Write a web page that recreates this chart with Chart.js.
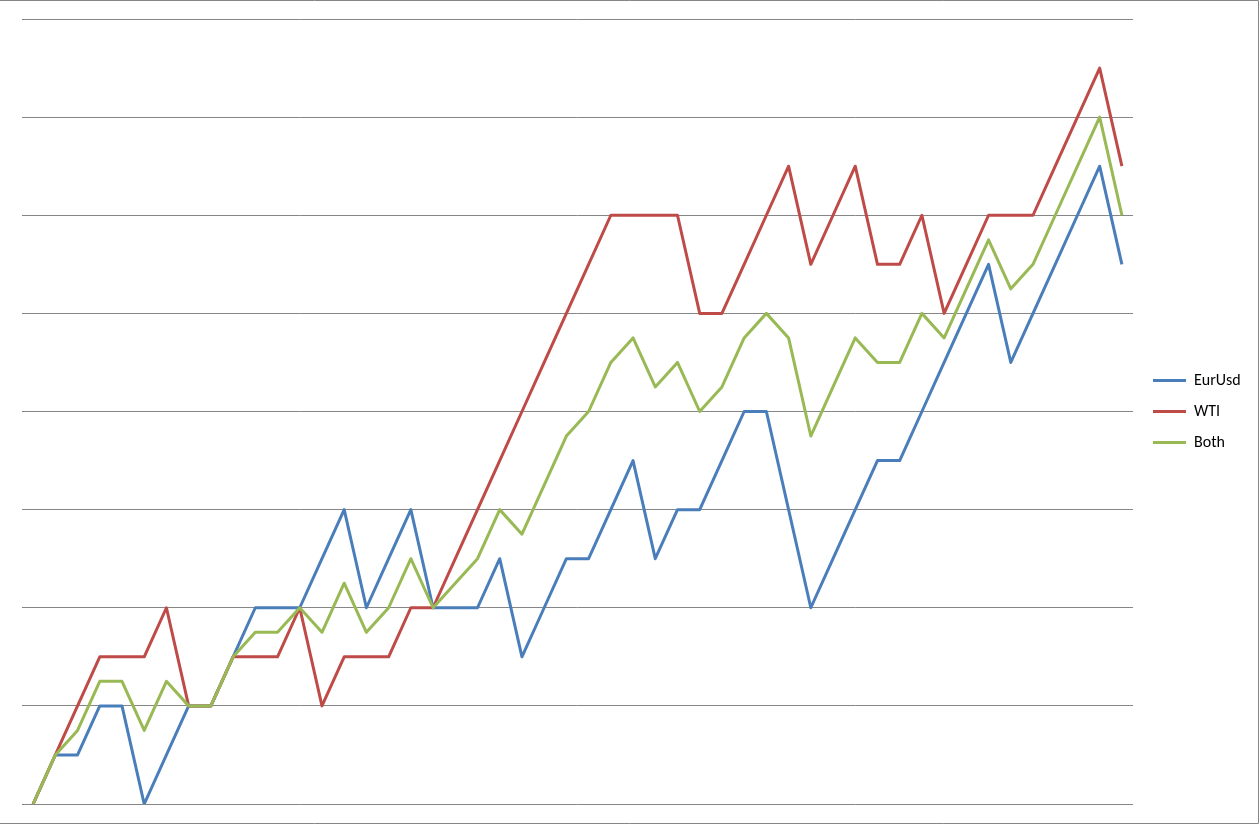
<!DOCTYPE html>
<html>
<head>
<meta charset="utf-8">
<script src="https://cdn.jsdelivr.net/npm/chart.js@4"></script>
<style>
  html, body { margin: 0; padding: 0; background: #ffffff; }
  #wrap { width: 1260px; height: 826px; }
</style>
</head>
<body>
<div id="wrap"><canvas id="c" width="1260" height="826"></canvas></div>
<script>
// ---- data ----
const categories = [1,2,3,4,5,6,7,8,9,10,11,12,13,14,15,16,17,18,19,20,21,22,23,24,25,26,27,28,29,30,31,32,33,34,35,36,37,38,39,40,41,42,43,44,45,46,47,48,49,50];

const eurUsd = [0,1,1,2,2,0,1,2,2,3,4,4,4,5,6,4,5,6,4,4,4,5,3,4,5,5,6,7,5,6,6,7,8,8,6,4,5,6,7,7,8,9,10,11,9,10,11,12,13,11];

const wti = [0,1,2,3,3,3,4,2,2,3,3,3,4,2,3,3,3,4,4,5,6,7,8,9,10,11,12,12,12,12,10,10,11,12,13,11,12,13,11,11,12,10,11,12,12,12,13,14,15,13];

const both = [0,1,1.5,2.5,2.5,1.5,2.5,2,2,3,3.5,3.5,4,3.5,4.5,3.5,4,5,4,4.5,5,6,5.5,6.5,7.5,8,9,9.5,8.5,9,8,8.5,9.5,10,9.5,7.5,8.5,9.5,9,9,10,9.5,10.5,11.5,10.5,11,12,13,14,12];

const seriesNames = ['EurUsd', 'WTI', 'Both'];
const yTicks = { min: 0, max: 16, step: 2 };

// ---- styles ----
const colors = ['#4A7EBB', '#BE4B48', '#98B954'];
const gridColor = '#868686';

const frame = {
  id: 'frame',
  afterDraw(chart) {
    const ctx = chart.ctx;
    ctx.save();
    ctx.strokeStyle = gridColor;
    ctx.lineWidth = 1;
    ctx.beginPath();
    ctx.moveTo(0, 0.5); ctx.lineTo(1258.5, 0.5);
    ctx.lineTo(1258.5, 823.5); ctx.lineTo(0, 823.5);
    ctx.stroke();
    ctx.restore();
  }
};

new Chart(document.getElementById('c'), {
  type: 'line',
  data: {
    labels: categories,
    datasets: [
      { label: seriesNames[0], data: eurUsd, borderColor: colors[0], backgroundColor: colors[0], order: 3 },
      { label: seriesNames[1], data: wti, borderColor: colors[1], backgroundColor: colors[1], order: 2 },
      { label: seriesNames[2], data: both, borderColor: colors[2], backgroundColor: colors[2], order: 1 }
    ]
  },
  options: {
    responsive: false,
    animation: false,
    devicePixelRatio: 1,
    elements: {
      line: { borderWidth: 3, tension: 0, borderJoinStyle: 'round', borderCapStyle: 'butt', fill: false },
      point: { radius: 0, hoverRadius: 0 }
    },
    layout: { padding: { top: 19, left: 22, bottom: 22, right: 12 } },
    scales: {
      x: {
        type: 'category',
        offset: true,
        grid: { display: false, drawTicks: false },
        border: { display: false },
        ticks: { display: false },
        afterFit(s) { s.height = 0; }
      },
      y: {
        min: yTicks.min,
        max: yTicks.max,
        ticks: { display: false, stepSize: yTicks.step },
        grid: { color: gridColor, lineWidth: 1, drawTicks: false },
        border: { display: false },
        afterFit(s) { s.width = 0; }
      },
      gap: {
        type: 'linear',
        position: 'right',
        display: true,
        ticks: { display: false },
        grid: { display: false, drawTicks: false },
        border: { display: false },
        afterFit(s) { s.width = 5; }
      }
    },
    plugins: {
      tooltip: { enabled: false },
      legend: {
        position: 'right',
        maxWidth: 110,
        labels: {
          boxWidth: 33,
          boxHeight: 3,
          padding: 15,
          color: '#000000',
          font: { family: 'Carlito, Calibri, Lato, "Liberation Sans", sans-serif', size: 16 },
          generateLabels(chart) {
            const items = Chart.defaults.plugins.legend.labels.generateLabels(chart);
            items.sort((a, b) => a.datasetIndex - b.datasetIndex);
            items.forEach(it => { it.fillStyle = it.strokeStyle; it.lineWidth = 0; });
            return items;
          }
        }
      }
    }
  },
  plugins: [frame]
});
</script>
</body>
</html>
